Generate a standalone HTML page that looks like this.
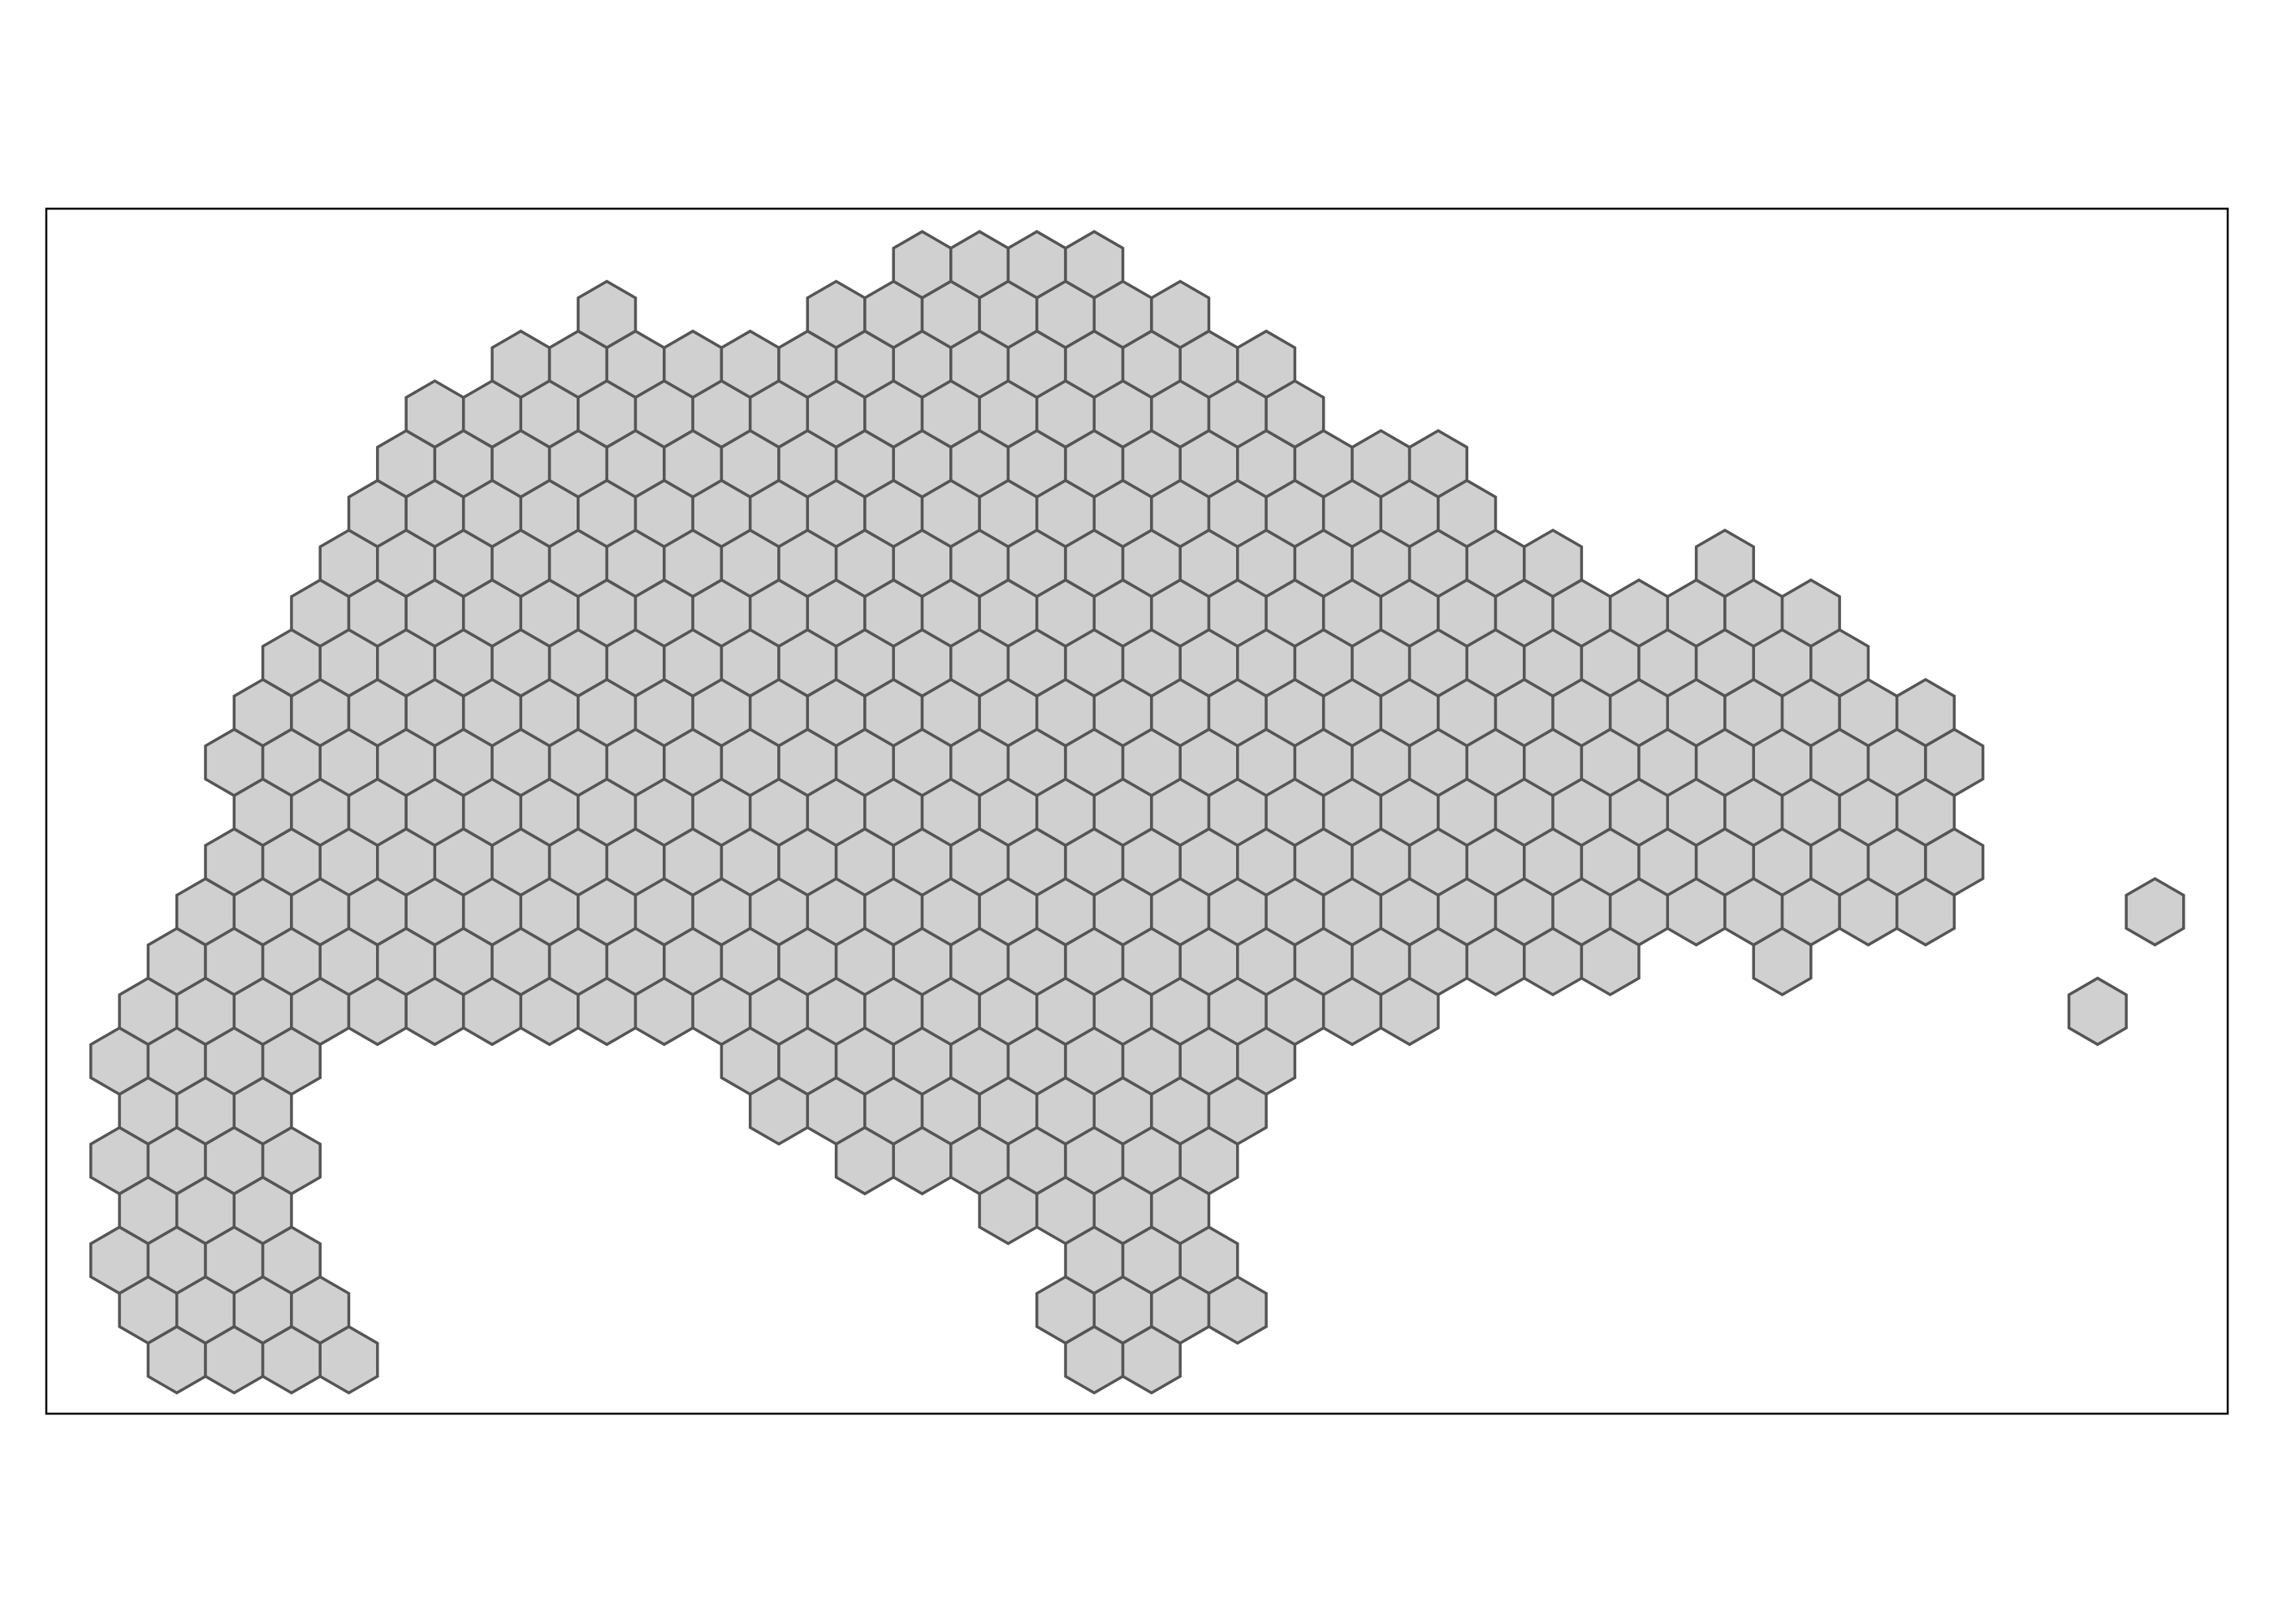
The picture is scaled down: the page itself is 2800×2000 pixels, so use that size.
<!DOCTYPE html>
<html>
<head>
<meta charset="utf-8">
<style>
  html,body{margin:0;padding:0;background:#fff;}
  svg{display:block;}
</style>
</head>
<body>
<svg id="chart" width="2800" height="2000" viewBox="0 0 2800 2000" xmlns="http://www.w3.org/2000/svg">
  <rect x="0" y="0" width="2800" height="2000" fill="#ffffff"/>
  <rect x="57" y="257" width="2686" height="1484" fill="none" stroke="#000" stroke-width="2.5"/>
  <g id="hexes"></g>
</svg>
<script>
// Each row: [rowIndex, [startK, endK], ...segments]; k = half-step column index (step 2)
const rows = [
  [0, [0, 6]],
  [1, [-11, -11], [-3, 9]],
  [2, [-14, 12]],
  [3, [-17, 13]],
  [4, [-18, 18]],
  [5, [-19, 19]],
  [6, [-20, 22], [28, 28]],
  [7, [-21, 31]],
  [8, [-22, 32]],
  [9, [-23, 35]],
  [10, [-24, 36]],
  [11, [-23, 35]],
  [12, [-24, 36]],
  [13, [-25, 35], [43, 43]],
  [14, [-26, 24], [30, 30]],
  [15, [-27, 17], [41, 41]],
  [16, [-28, -22], [-6, 12]],
  [17, [-27, -23], [-5, 11]],
  [18, [-28, -22], [-2, 10]],
  [19, [-27, -23], [3, 9]],
  [20, [-28, -22], [6, 10]],
  [21, [-27, -21], [5, 11]],
  [22, [-26, -20], [6, 8]]
];

const X0 = 1135.5, HALF = 35.3, Y0 = 326, DY = 61.3, R = 40.8;
function xAxis(k){ return X0 + k * HALF; }
function yAxis(r){ return Y0 + r * DY; }

const g = document.getElementById('hexes');
const NS = 'http://www.w3.org/2000/svg';
rows.forEach(function(row){
  const r = row[0];
  for (let s = 1; s < row.length; s++) {
    for (let k = row[s][0]; k <= row[s][1]; k += 2) {
      const cx = xAxis(k), cy = yAxis(r);
      const pts = [];
      for (let i = 0; i < 6; i++) {
        const a = Math.PI / 180 * (60 * i - 90);
        pts.push((cx + R * Math.cos(a)).toFixed(1) + ',' + (cy + R * Math.sin(a)).toFixed(1));
      }
      const p = document.createElementNS(NS, 'polygon');
      p.setAttribute('points', pts.join(' '));
      p.setAttribute('fill', '#d0d0d0');
      p.setAttribute('stroke', '#555555');
      p.setAttribute('stroke-width', '3.5');
      p.setAttribute('stroke-linejoin', 'miter');
      
      
      g.appendChild(p);
    }
  }
});
</script>
</body>
</html>
